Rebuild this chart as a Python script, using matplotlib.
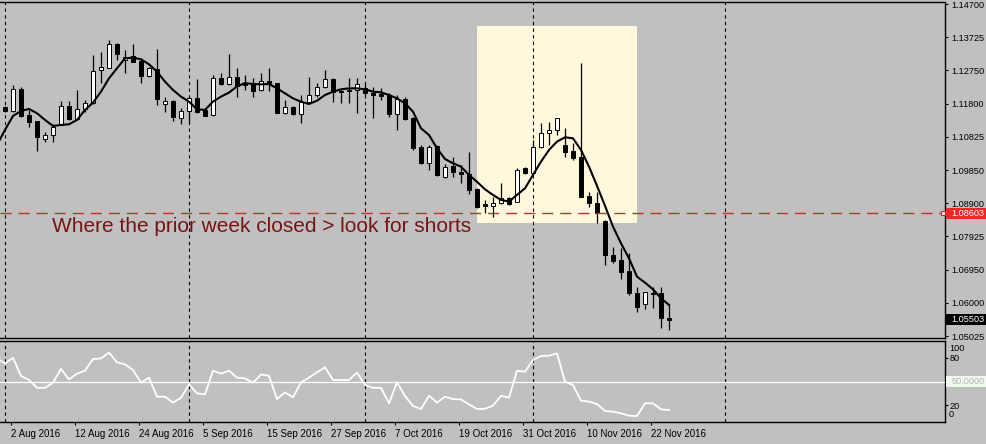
import matplotlib
matplotlib.use('Agg')
import matplotlib.pyplot as plt
import numpy as np
from matplotlib.patches import Rectangle
from matplotlib.transforms import blended_transform_factory

# ---------------- data ----------------
opens = [1.11690, 1.11593, 1.12234, 1.11467, 1.11292, 1.10777, 1.10875, 1.11185, 1.11729, 1.11341,
         1.11651, 1.11807, 1.12768, 1.12846, 1.13535, 1.13069, 1.13186, 1.13050, 1.12613, 1.12797,
         1.11797, 1.11884, 1.11370, 1.11583, 1.11952, 1.11613, 1.11457, 1.12535, 1.12360, 1.12564,
         1.12408, 1.12388, 1.12194, 1.12466, 1.12388, 1.11514, 1.11709, 1.11495, 1.11854, 1.12039,
         1.12272, 1.12505, 1.12175, 1.12194, 1.12194, 1.12243, 1.12116, 1.12078, 1.12039, 1.11495,
         1.11922, 1.11369, 1.10524, 1.10077, 1.10563, 1.09670, 1.09980, 1.09796, 1.09737, 1.09301,
         1.08864, 1.08816, 1.08893, 1.09058, 1.08942, 1.09913, 1.09787, 1.10544, 1.10933, 1.11030,
         1.10593, 1.10418, 1.10253, 1.09107, 1.08913, 1.08380, 1.07386, 1.07241, 1.06930, 1.06289,
         1.05959, 1.06289, 1.06270, 1.05561]
highs = [1.11729, 1.12341, 1.12273, 1.11613, 1.11302, 1.10981, 1.11195, 1.11884, 1.11884, 1.12195,
         1.11904, 1.13205, 1.13292, 1.13652, 1.13555, 1.13360, 1.13535, 1.13118, 1.12875, 1.13389,
         1.12001, 1.11904, 1.11661, 1.12001, 1.12506, 1.11661, 1.12632, 1.12681, 1.13234, 1.12826,
         1.12631, 1.12534, 1.12699, 1.12825, 1.12408, 1.11903, 1.11728, 1.12048, 1.12583, 1.12408,
         1.12777, 1.12534, 1.12243, 1.12534, 1.12534, 1.12388, 1.12291, 1.12243, 1.12097, 1.12048,
         1.11980, 1.11417, 1.10592, 1.10592, 1.10592, 1.10038, 1.10252, 1.10009, 1.10398, 1.09330,
         1.08991, 1.09088, 1.09476, 1.09088, 1.09913, 1.09962, 1.10738, 1.11224, 1.11272, 1.11389,
         1.11078, 1.10641, 1.12991, 1.09233, 1.09233, 1.08406, 1.07629, 1.07580, 1.07454, 1.06464,
         1.06318, 1.06464, 1.06464, 1.05930]
lows = [1.11564, 1.11564, 1.11399, 1.11127, 1.10428, 1.10690, 1.10690, 1.11176, 1.11321, 1.11321,
        1.11564, 1.11787, 1.12389, 1.12826, 1.13069, 1.12681, 1.13001, 1.12409, 1.12584, 1.11758,
        1.11564, 1.11302, 1.11205, 1.11224, 1.11516, 1.11438, 1.11438, 1.12341, 1.12341, 1.12001,
        1.12194, 1.12000, 1.12175, 1.12175, 1.11514, 1.11485, 1.11466, 1.11223, 1.11835, 1.12000,
        1.12252, 1.11854, 1.11806, 1.11806, 1.11514, 1.12048, 1.11369, 1.11903, 1.11417, 1.11029,
        1.11320, 1.10446, 1.10029, 1.09864, 1.09699, 1.09621, 1.09670, 1.09475, 1.09155, 1.08748,
        1.08602, 1.08505, 1.08874, 1.08845, 1.08923, 1.09748, 1.09768, 1.10496, 1.10593, 1.10884,
        1.10253, 1.10156, 1.09068, 1.08796, 1.08311, 1.07095, 1.07143, 1.06677, 1.06221, 1.05716,
        1.05804, 1.05833, 1.05270, 1.05202]
closes = [1.11583, 1.12215, 1.11438, 1.11273, 1.10836, 1.10875, 1.11108, 1.11719, 1.11341, 1.11632,
          1.11807, 1.12758, 1.12855, 1.13525, 1.13234, 1.13166, 1.13021, 1.12613, 1.12826, 1.11923,
          1.11865, 1.11399, 1.11583, 1.11952, 1.11554, 1.11448, 1.12535, 1.12360, 1.12584, 1.12312,
          1.12340, 1.12175, 1.12466, 1.12408, 1.11534, 1.11709, 1.11485, 1.11854, 1.12048, 1.12272,
          1.12505, 1.12146, 1.12126, 1.12155, 1.12359, 1.12097, 1.12058, 1.12019, 1.11485, 1.11922,
          1.11359, 1.10514, 1.10058, 1.10543, 1.09718, 1.09961, 1.09815, 1.09737, 1.09281, 1.08796,
          1.08825, 1.08893, 1.09058, 1.08874, 1.09864, 1.09787, 1.10544, 1.10933, 1.11030, 1.11370,
          1.10398, 1.10224, 1.09088, 1.08893, 1.08602, 1.07386, 1.07211, 1.06901, 1.06270, 1.05881,
          1.06299, 1.06250, 1.05541, 1.05503]

# moving average (starts one bar before the first visible candle)
ma = [1.10593, 1.11030, 1.11438, 1.11583, 1.11642, 1.11516, 1.11321, 1.11146, 1.11176, 1.11195,
      1.11321, 1.11613, 1.11826, 1.12147, 1.12535, 1.12826, 1.13118, 1.13137, 1.13089, 1.12943,
      1.12729, 1.12438, 1.12195, 1.12001, 1.11855, 1.11632, 1.11613, 1.11855, 1.12001, 1.12118,
      1.12300, 1.12395, 1.12369, 1.12359, 1.12369, 1.12243, 1.12097, 1.11951, 1.11854, 1.11786,
      1.11883, 1.12048, 1.12146, 1.12214, 1.12243, 1.12243, 1.12214, 1.12146, 1.12126, 1.12048,
      1.11951, 1.11806, 1.11563, 1.11077, 1.10883, 1.10495, 1.10184, 1.10058, 1.09961, 1.09718,
      1.09520, 1.09300, 1.09136, 1.08991, 1.08942, 1.09136, 1.09330, 1.09719, 1.10107, 1.10447,
      1.10690, 1.10816, 1.10787, 1.10447, 1.09962, 1.09400, 1.08820, 1.08212, 1.07726, 1.07289,
      1.06755, 1.06580, 1.06386, 1.06124, 1.05930]

# oscillator (lower panel), also starting one bar earlier
osc = [79, 73, 80, 57, 52, 42, 42, 48.5, 66, 52.7,
       60, 63.7, 78.5, 79.3, 86.5, 74.3, 71.7, 64.6, 48.5, 54.9,
       30.8, 30.8, 23.2, 29.5, 46.4, 35, 33.8, 63.7, 60, 63.7,
       54.9, 54, 48.5, 58.9, 57.2, 27.8, 36.3, 30, 49, 54.9,
       61.6, 68, 51.9, 51.9, 51.9, 61.2, 45.6, 42, 42, 22.4,
       49, 31.6, 19, 15.2, 32, 23.2, 30.8, 27.8, 27.3, 21.1,
       15.2, 15.5, 19.5, 31.8, 29.5, 63.7, 62.4, 77.2, 82.3, 82.7,
       85.7, 49.8, 45.6, 25.7, 24.5, 21.5, 12.7, 11.8, 9.7, 6.8,
       6.3, 22.4, 22.4, 14.8, 13.9]

date_labels = ['2 Aug 2016', '12 Aug 2016', '24 Aug 2016', '5 Sep 2016', '15 Sep 2016',
               '27 Sep 2016', '7 Oct 2016', '19 Oct 2016', '31 Oct 2016', '10 Nov 2016', '22 Nov 2016']
date_label_bars = [1, 9, 17, 25, 33, 41, 49, 57, 65, 73, 81]
month_grid_bars = [0, 23, 45, 66, 90]

price_labels = ['1.14700', '1.13725', '1.12750', '1.11800', '1.10825', '1.09850',
                '1.08900', '1.07925', '1.06950', '1.06000', '1.05025']
price_label_top = 1.14700
price_label_bottom = 1.05025

prior_week_close = 1.08603
last_price = 1.05503
zone_start_bar, zone_end_bar = 59.0, 79.0
zone_low, zone_high = 1.08327, 1.14068
annotation = 'Where the prior week closed > look for shorts'

# ---------------- figure ----------------
W, H = 987, 444
BG = '#C0C0C0'
FONT = 'Liberation Sans'
LS = 6.6
fig = plt.figure(figsize=(W / 100, H / 100), dpi=100, facecolor=BG)

def fy(py):
    return 1 - py / H

ax = fig.add_axes([0, fy(338), 945 / W, (338 - 2.5) / H])
axi = fig.add_axes([0, fy(422), 945 / W, (422 - 341) / H])

for a in (ax, axi):
    a.set_facecolor(BG)
    a.set_xlim(-0.625, 117.5)
    for s in ('top', 'bottom', 'right'):
        a.spines[s].set_color('black')
        a.spines[s].set_linewidth(1.0)
    a.spines['left'].set_visible(False)
    for g in month_grid_bars:
        a.axvline(g, color='black', lw=0.8, ls=(0, (3, 3)), zorder=2)

ax.set_ylim(1.04967, 1.14744)
axi.set_ylim(-1.27, 101.3)

# zone rectangle
ax.add_patch(Rectangle((zone_start_bar, zone_low), zone_end_bar - zone_start_bar,
                       zone_high - zone_low, facecolor='#FFF8DC', edgecolor='none', zorder=1))

# candles
o = np.array(opens); h = np.array(highs); l = np.array(lows); c = np.array(closes)
x = np.arange(len(o))
bull = c >= o
ax.vlines(x, l, h, color='black', lw=0.9, zorder=3)
body_h = np.maximum(np.abs(c - o), 0.00003)
ax.bar(x, body_h, bottom=np.minimum(o, c), width=0.62,
       color=np.where(bull, 'white', 'black'), edgecolor='black', linewidth=0.7, zorder=4)

# moving average
xm = np.arange(-1, len(ma) - 1)
ax.plot(xm, ma, color='black', lw=1.5, zorder=5, solid_joinstyle='round')

# prior week close line
ax.axhline(prior_week_close, color='#D02828', lw=1.0, dashes=(8, 5), zorder=6)
ax.plot([117.25], [prior_week_close], marker='s', ms=3, mfc='white', mec='#D02828', mew=0.8,
        zorder=7, clip_on=False)

ax.text(5.9, 1.08056, annotation, fontsize=15, color='#7A1414', family=FONT,
        va='baseline', ha='left', zorder=8)

# price axis
ax.yaxis.tick_right()
ax.set_yticks(np.linspace(price_label_top, price_label_bottom, len(price_labels)))
ax.set_yticklabels(price_labels)
ax.tick_params(axis='y', length=2.2, width=0.8, pad=2.5, labelsize=LS, colors='black')
for t in ax.get_yticklabels():
    t.set_family(FONT)
ax.set_xticks([])

trans = blended_transform_factory(fig.transFigure, ax.transData)
half = 5.5 * 0.00029142
ax.add_patch(Rectangle((946 / W, prior_week_close - half), (W - 946) / W, 2 * half,
                       transform=trans, facecolor='#EE2828', edgecolor='none', clip_on=False, zorder=10))
ax.text(951 / W, prior_week_close, f'{prior_week_close:.5f}', transform=trans, color='white',
        va='center', ha='left', fontsize=LS, family=FONT, clip_on=False, zorder=11)
ax.add_patch(Rectangle((946 / W, last_price - half), (W - 946) / W, 2 * half,
                       transform=trans, facecolor='black', edgecolor='none', clip_on=False, zorder=10))
ax.text(951 / W, last_price, f'{last_price:.5f}', transform=trans, color='white',
        va='center', ha='left', fontsize=LS, family=FONT, clip_on=False, zorder=11)

# oscillator panel
axi.axhline(50, color='white', lw=0.9, zorder=3)
axi.plot(xm, osc, color='white', lw=1.3, zorder=4)
axi.yaxis.tick_right()
axi.set_yticks([80, 20])
axi.set_yticklabels(['80', '20'])
axi.tick_params(axis='y', length=2.2, width=0.8, pad=1, labelsize=LS, colors='black')
for t in axi.get_yticklabels():
    t.set_family(FONT)
transi = blended_transform_factory(fig.transFigure, axi.transData)
axi.text(949 / W, 98, '100', transform=transi, va='top', ha='left', fontsize=LS,
         family=FONT, clip_on=False)
axi.text(949 / W, 2, '0', transform=transi, va='bottom', ha='left', fontsize=LS,
         family=FONT, clip_on=False)
axi.add_patch(Rectangle((946 / W, 50 - 7.3), (W - 946) / W, 14.6, transform=transi,
                        facecolor='#F0F8F0', edgecolor='none', clip_on=False, zorder=10))
axi.text(952 / W, 50, '50.0000', transform=transi, color='#B0BAB0', va='center', ha='left',
         fontsize=LS, family=FONT, clip_on=False, zorder=11)

axi.set_xticks(np.array(date_label_bars) - 0.25)
axi.set_xticklabels(date_labels)
axi.tick_params(axis='x', length=2.2, width=0.8, pad=2.5, labelsize=7, colors='black')
for t in axi.get_xticklabels():
    t.set_family(FONT)
    t.set_ha('left')

fig.savefig('out.png', dpi=100, facecolor=BG)
